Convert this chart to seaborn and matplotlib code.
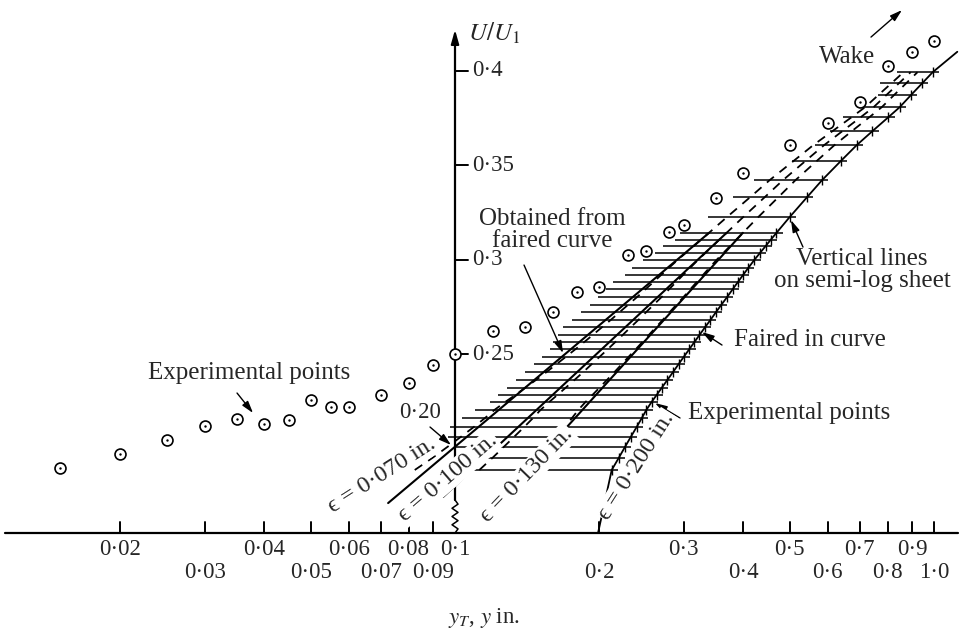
import numpy as np
import pandas as pd
import matplotlib
matplotlib.use("Agg")
import matplotlib.pyplot as plt
import seaborn as sns

# ---------------- data ----------------
# experimental points (circles): y in inches, U/U1
exp_y = [0.015, 0.020, 0.025, 0.030, 0.035, 0.040, 0.045, 0.050, 0.055, 0.060,
         0.070, 0.080, 0.090, 0.100, 0.120, 0.140, 0.160, 0.180, 0.200, 0.230,
         0.250, 0.280, 0.300, 0.350, 0.400, 0.500, 0.600, 0.700, 0.800, 0.900, 1.000]
exp_u = [0.1900, 0.1974, 0.2047, 0.2119, 0.2156, 0.2131, 0.2151, 0.2258, 0.2221, 0.2221,
         0.2285, 0.2350, 0.2446, 0.2500, 0.2625, 0.2646, 0.2725, 0.2830, 0.2858, 0.3024,
         0.3048, 0.3147, 0.3186, 0.3326, 0.3458, 0.3607, 0.3725, 0.3835, 0.4025, 0.4101, 0.4158]

# faired curve: U levels of the horizontal lines and faired y values
faired_u = [0.1888, 0.1951, 0.2010, 0.2063, 0.2115, 0.2163, 0.2206, 0.2248, 0.2285, 0.2322,
            0.2364, 0.2406, 0.2449, 0.2486, 0.2528, 0.2565, 0.2602, 0.2644, 0.2681, 0.2724,
            0.2761, 0.2803, 0.2846, 0.2883, 0.2920, 0.2957, 0.3000, 0.3037, 0.3074, 0.3106,
            0.3143, 0.3226, 0.3332, 0.3422, 0.3523, 0.3607, 0.3681, 0.3755, 0.3808, 0.3872,
            0.3935, 0.3993]
faired_y = [0.0124, 0.0196, 0.0264, 0.0328, 0.0394, 0.0455, 0.0509, 0.0573, 0.0636, 0.0700,
            0.0775, 0.0852, 0.0931, 0.1002, 0.1086, 0.1161, 0.1238, 0.1328, 0.1412, 0.1508,
            0.1595, 0.1699, 0.1803, 0.1897, 0.1994, 0.2095, 0.2217, 0.2334, 0.2455, 0.2561,
            0.2690, 0.2995, 0.3434, 0.3840, 0.4390, 0.4897, 0.5438, 0.6032, 0.6481, 0.6953,
            0.7454, 0.7938]
# left end (y + eps scale) of each horizontal line
hline_start = [0.1065, 0.1039, 0.1000, 0.0967, 0.0976, 0.1034, 0.1101, 0.1183, 0.1230, 0.1284,
               0.1341, 0.1400, 0.1462, 0.1519, 0.1579, 0.1602, 0.1641, 0.1681, 0.1755, 0.1833,
               0.1914, 0.1989, 0.2067, 0.2137, 0.2264, 0.2342, 0.2469, 0.2615, 0.2718, 0.2880,
               0.2950, 0.3374, 0.3805, 0.4209, 0.5053, 0.5644, 0.6066, 0.6457, 0.7075, 0.7640,
               0.7714, 0.8372]

eps_values = [0.070, 0.100, 0.130]
eps_labels = ["0·070", "0·100", "0·130", "0·200"]
# straight solid lines for eps = 0.070, 0.100, 0.130 (start, end)
fit_x = [[0.0725, 0.3392], [0.0944, 0.3690], [0.1183, 0.3990]]
fit_u = [[0.1713, 0.3143], [0.1745, 0.3143], [0.1666, 0.3143]]
# eps = 0.200 line extensions (lower leader and upper end)
ext200_x = [0.1989, 1.1187]
ext200_u = [0.1555, 0.4101]

xticks_row1 = [0.02, 0.04, 0.06, 0.08, 0.1, 0.3, 0.5, 0.7, 0.9]
xticks_row1_lab = ["0·02", "0·04", "0·06", "0·08", "0·1", "0·3", "0·5", "0·7", "0·9"]
xticks_row2 = [0.03, 0.05, 0.07, 0.09, 0.2, 0.4, 0.6, 0.8, 1.0]
xticks_row2_lab = ["0·03", "0·05", "0·07", "0·09", "0·2", "0·4", "0·6", "0·8", "1·0"]
yticks = [0.25, 0.30, 0.35, 0.40]
yticks_lab = ["0·25", "0·3", "0·35", "0·4"]

# ---------------- figure ----------------
sns.set_theme(style="white")
plt.rcParams["font.family"] = ["Liberation Serif", "DejaVu Serif"]
plt.rcParams["mathtext.fontset"] = "stix"

fig = plt.figure(figsize=(9.61, 6.31), dpi=100)
ax = fig.add_axes([0, 0, 1, 1])
ax.set_xscale("log")
ax.set_xlim(0.01122, 1.1387)
ax.set_ylim(0.1036, 0.4375)
ax.axis("off")


# helpers for layout positions (pixel -> data), used only for text/axes decoration
def X(px):
    return 0.1 * 10 ** ((px - 455) / 479)


def Y(py):
    return 0.25 + (354.3 - py) / 1890


K = "black"
fy = np.array(faired_y)
fu = np.array(faired_u)

# horizontal lines
ax.hlines(fu, hline_start, (fy + 0.2) * 1.03, color=K, lw=1.1, zorder=2)

# dashed eps curves
for e in eps_values:
    sns.lineplot(x=fy + e, y=fu, sort=False, estimator=None, color=K, lw=1.3,
                 linestyle=(0, (5, 4)), ax=ax, zorder=3)

# straight solid eps lines
for xs, us in zip(fit_x, fit_u):
    sns.lineplot(x=xs, y=us, sort=False, estimator=None, color=K, lw=1.5, ax=ax, zorder=3)

# eps = 0.200 faired line with crosses
x200 = [ext200_x[0]] + list(fy + 0.2) + [ext200_x[1]]
u200 = [ext200_u[0]] + faired_u + [ext200_u[1]]
sns.lineplot(x=x200, y=u200, sort=False, estimator=None, color=K, lw=1.3, ax=ax, zorder=3)
sns.scatterplot(x=fy + 0.2, y=fu, marker="|", s=55, color=K, linewidth=1.0, ax=ax, zorder=4)

# experimental points
sns.scatterplot(x=exp_y, y=exp_u, marker="o", s=62, facecolor="white", edgecolor=K,
                linewidth=1.2, ax=ax, zorder=5)
sns.scatterplot(x=exp_y, y=exp_u, marker="o", s=3, color=K, linewidth=0, ax=ax, zorder=6)

# ---------------- axes drawn by hand ----------------
u_axis = Y(533)
ax.plot([X(5), X(958)], [u_axis, u_axis], color=K, lw=1.6, zorder=4)
tick_h = 11 / 1890
for t in xticks_row1 + xticks_row2:
    if t == 0.1:
        continue
    ax.plot([t, t], [u_axis, u_axis + tick_h], color=K, lw=1.4, zorder=4)
for t, l in zip(xticks_row1, xticks_row1_lab):
    ax.text(t, Y(549), l, ha="center", va="center", fontsize=16.5)
for t, l in zip(xticks_row2, xticks_row2_lab):
    ax.text(t, Y(572), l, ha="center", va="center", fontsize=16.5)

# y axis with break
ax.plot([0.1, 0.1], [Y(500), Y(34)], color=K, lw=1.6, zorder=4)
ax.annotate("", xy=(0.1, Y(27)), xytext=(0.1, Y(45)),
            arrowprops=dict(arrowstyle="-|>,head_length=0.7,head_width=0.2", color=K, lw=1.4))
zz_u = np.linspace(Y(500), u_axis, 9)
zz_x = [0.1 * (1.0145 if i % 2 else 0.9857) if 0 < i < 8 else 0.1 for i in range(9)]
ax.plot(zz_x, zz_u, color=K, lw=1.1, zorder=4)
for t, l in zip(yticks, yticks_lab):
    ax.plot([0.1, X(468)], [t, t], color=K, lw=1.4, zorder=4)
    ax.text(X(472), t, l, ha="left", va="center", fontsize=16.5)
ax.text(X(468), Y(33), r"$U/U_1$", ha="left", va="center", fontsize=18)
ax.text(X(484), Y(618), r"$y_T$, $y$ in.", ha="center", va="center", fontsize=16.5)

# ---------------- annotations ----------------
arw = dict(arrowstyle="-|>,head_length=0.6,head_width=0.18", color=K, lw=1.0,
           shrinkA=0, shrinkB=0)
ax.text(X(249), Y(373), "Experimental points", ha="center", va="center", fontsize=18)
ax.annotate("", xy=(X(253), Y(413)), xytext=(X(237), Y(393)), arrowprops=arw)

ax.text(X(420), Y(412), "0·20", ha="center", va="center", fontsize=16.5)
ax.annotate("", xy=(X(451), Y(445)), xytext=(X(430), Y(427)), arrowprops=arw)

ax.text(X(552), Y(230), "Obtained from\nfaired curve", ha="center", va="center",
        fontsize=18, linespacing=0.95)
ax.annotate("", xy=(X(563), Y(353)), xytext=(X(524), Y(265)), arrowprops=arw)

ax.text(X(862), Y(270), "Vertical lines\non semi-log sheet", ha="center", va="center",
        fontsize=18, linespacing=0.95)
ax.annotate("", xy=(X(791), Y(220)), xytext=(X(803), Y(247)), arrowprops=arw)

ax.text(X(810), Y(340), "Faired in curve", ha="center", va="center", fontsize=18)
ax.annotate("", xy=(X(702), Y(332)), xytext=(X(722), Y(345)), arrowprops=arw)

ax.text(X(789), Y(413), "Experimental points", ha="center", va="center", fontsize=18)
ax.annotate("", xy=(X(655), Y(403)), xytext=(X(680), Y(418)), arrowprops=arw)

ax.text(X(847), Y(57), "Wake", ha="center", va="center", fontsize=18)
ax.annotate("", xy=(X(902), Y(10)), xytext=(X(871), Y(37)), arrowprops=arw)

# rotated eps labels
lab_pos = [(382, 475, 32.5), (448, 478, 40.7), (527, 475, 46), (637, 466, 57.4)]
for (px, py, ang), lab in zip(lab_pos, eps_labels):
    ax.text(X(px), Y(py), "ϵ = " + lab + " in.", rotation=ang, rotation_mode="anchor",
            ha="center", va="center", fontsize=17.5, zorder=7,
            bbox=dict(boxstyle="square,pad=0.05", fc="white", ec="none"))

fig.savefig("out.png", dpi=100)
